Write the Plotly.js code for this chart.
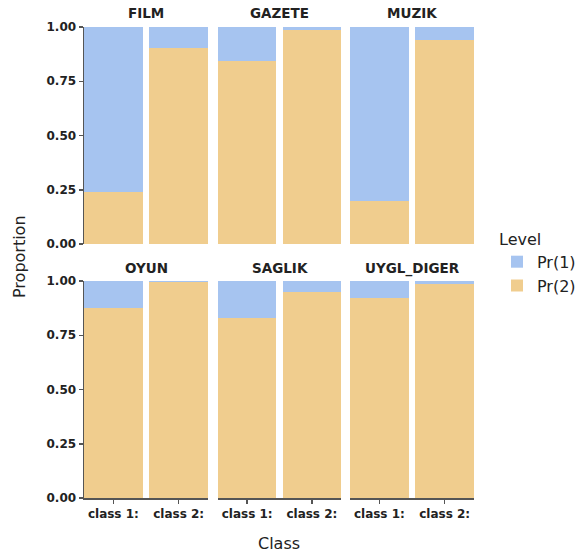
<!DOCTYPE html>
<html>
<head>
<meta charset="utf-8">
<script src="https://cdn.plot.ly/plotly-3.0.1.min.js"></script>
<style>html,body{margin:0;padding:0;background:#fff;}#chart{width:579px;height:556px;}</style>
</head>
<body>
<div id="chart"></div>
<script>
// Data
const panels = ["FILM", "GAZETE", "MUZIK", "OYUN", "SAGLIK", "UYGL_DIGER"];
const classes = ["class 1:", "class 2:"];
const levels = ["Pr(1)", "Pr(2)"];
const pr2 = {
  FILM: [0.24, 0.905],
  GAZETE: [0.845, 0.988],
  MUZIK: [0.197, 0.941],
  OYUN: [0.874, 0.994],
  SAGLIK: [0.831, 0.951],
  UYGL_DIGER: [0.923, 0.988]
};
const pr1 = {};
panels.forEach(p => { pr1[p] = pr2[p].map(v => 1 - v); });

const colors = {"Pr(1)": "#A6C4F0", "Pr(2)": "#F0CD8E"};

const W = 579, H = 556;
const xdom = [[84, 208], [218, 341], [350, 474]];
const ydom = [[27, 244], [281, 498]];
const fx = a => [a[0] / W, a[1] / W];
const fy = a => [1 - a[1] / H, 1 - a[0] / H];

const FONT = "DejaVu Sans";
const AXC = "#555";
const traces = [];
const layout = {
  width: W, height: H,
  margin: {l: 0, r: 0, t: 0, b: 0, autoexpand: false},
  paper_bgcolor: "#fff", plot_bgcolor: "#fff",
  barmode: "stack", bargap: 0.1,
  font: {family: FONT, color: "#222"},
  showlegend: true,
  legend: {
    x: 497 / W, y: 1 - 224 / H, xanchor: "left", yanchor: "top",
    title: {text: "Level", font: {size: 16, family: FONT, color: "#222"}},
    font: {size: 16, family: FONT, color: "#222"},
    traceorder: "normal", tracegroupgap: 0, itemwidth: 30
  },
  annotations: [], shapes: []
};

panels.forEach((p, i) => {
  const r = Math.floor(i / 3), c = i % 3;
  const n = i + 1;
  const xa = "x" + (n === 1 ? "" : n), ya = "y" + (n === 1 ? "" : n);
  const xk = "xaxis" + (n === 1 ? "" : n), yk = "yaxis" + (n === 1 ? "" : n);
  traces.push({
    type: "bar", x: classes, y: pr2[p], name: "Pr(2)", legendgroup: "Pr(2)", legendrank: 2,
    marker: {color: colors["Pr(2)"], line: {width: 0}},
    xaxis: xa, yaxis: ya, showlegend: i === 0, hoverinfo: "y"
  });
  traces.push({
    type: "bar", x: classes, y: pr1[p], name: "Pr(1)", legendgroup: "Pr(1)", legendrank: 1,
    marker: {color: colors["Pr(1)"], line: {width: 0}},
    xaxis: xa, yaxis: ya, showlegend: i === 0, hoverinfo: "y"
  });
  const bottom = r === 1, left = c === 0;
  layout[xk] = {
    domain: fx(xdom[c]), anchor: ya, type: "category",
    range: [-0.45, 1.45], fixedrange: true, automargin: false,
    showline: bottom, linecolor: AXC, linewidth: 1.5,
    ticks: bottom ? "outside" : "", ticklen: 4, tickwidth: 1.5, tickcolor: AXC,
    showticklabels: bottom,
    tickfont: {family: FONT, size: 12, color: "#222", weight: "bold"},
    showgrid: false, zeroline: false
  };
  layout[yk] = {
    domain: fy(ydom[r]), anchor: xa, range: [0, 1], fixedrange: true, automargin: false,
    tickvals: [0, 0.25, 0.5, 0.75, 1], ticktext: ["0.00", "0.25", "0.50", "0.75", "1.00"],
    showline: left, linecolor: AXC, linewidth: 1.5,
    ticks: left ? "outside" : "", ticklen: 4, tickwidth: 1.5, tickcolor: AXC,
    showticklabels: left,
    tickfont: {family: FONT, size: 12, color: "#222", weight: "bold"},
    showgrid: false, zeroline: false
  };
  layout.annotations.push({
    text: p, xref: "paper", yref: "paper",
    x: ((xdom[c][0] + xdom[c][1]) / 2) / W, y: 1 - (r === 0 ? 13 : 268) / H,
    xanchor: "center", yanchor: "middle", showarrow: false,
    font: {family: FONT, size: 13.5, color: "#222", weight: "bold"}
  });
});

layout.annotations.push({
  text: "Proportion", xref: "paper", yref: "paper", x: 19 / W, y: 1 - 257 / H,
  xanchor: "center", yanchor: "middle", textangle: -90, showarrow: false,
  font: {family: FONT, size: 16, color: "#222"}
});
layout.annotations.push({
  text: "Class", xref: "paper", yref: "paper", x: 279 / W, y: 1 - 543 / H,
  xanchor: "center", yanchor: "middle", showarrow: false,
  font: {family: FONT, size: 16, color: "#222"}
});

Plotly.newPlot("chart", traces, layout, {staticPlot: true, displayModeBar: false});
</script>
</body>
</html>
